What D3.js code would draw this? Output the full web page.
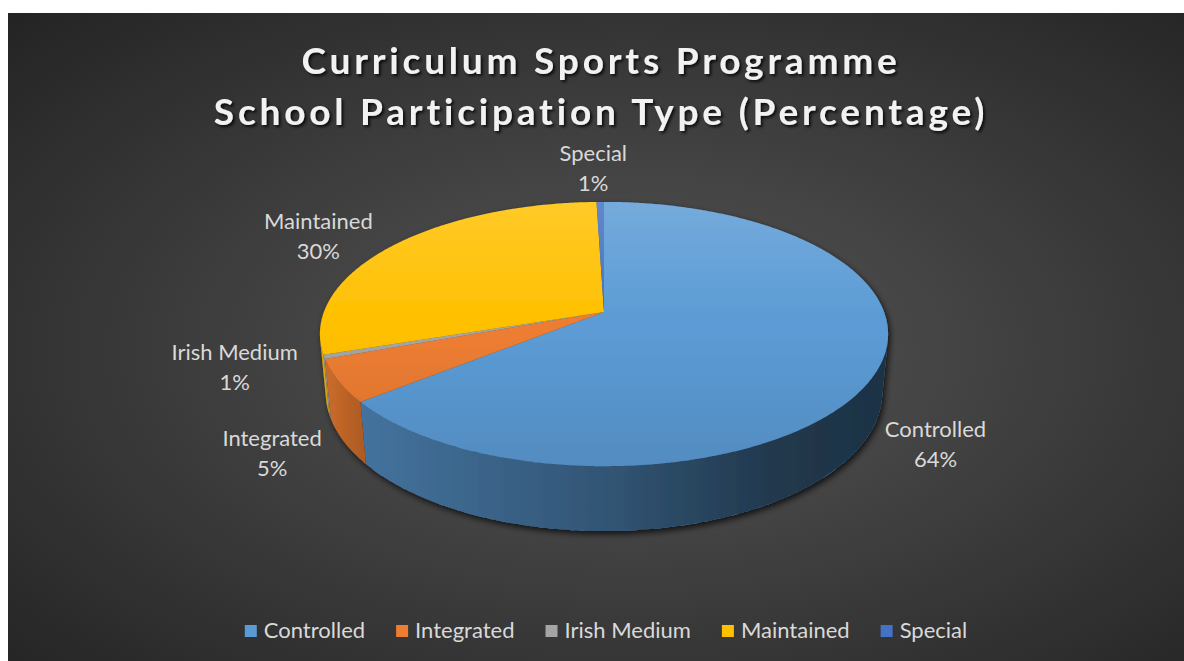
<!DOCTYPE html>
<html>
<head>
<meta charset="utf-8">
<script src="https://cdn.jsdelivr.net/npm/d3@7"></script>
<style>
  html, body { margin: 0; padding: 0; background: #fff; }
  svg { display: block; }
  text { font-family: Lato, "Open Sans", sans-serif; }
</style>
</head>
<body>
<svg id="chart" width="1184" height="661"></svg>
<script>
// chart data
const categories = ["Controlled", "Integrated", "Irish Medium", "Maintained", "Special"];
const values = [64.2, 5.2, 0.5, 29.6, 0.5];
const titleLines = ["Curriculum Sports Programme", "School Participation Type (Percentage)"];
const palette = ["#5b9bd5", "#ed7d31", "#a5a5a5", "#ffc000", "#4472c4"];

const W = 1184, H = 661;
const svg = d3.select("#chart");
const defs = svg.append("defs");
const color = d3.scaleOrdinal(categories, palette);

// background
const bg = defs.append("radialGradient").attr("id", "bgGrad")
  .attr("cx", "53%").attr("cy", "52%").attr("r", "75%");
bg.append("stop").attr("offset", "0%").attr("stop-color", "#4d4d4d");
bg.append("stop").attr("offset", "30%").attr("stop-color", "#474747");
bg.append("stop").attr("offset", "100%").attr("stop-color", "#232323");
svg.append("rect").attr("x", 8).attr("y", 13).attr("width", W - 8).attr("height", H - 13)
  .attr("fill", "url(#bgGrad)");

// filters
const sh = defs.append("filter").attr("id", "pieShadow")
  .attr("x", "-10%").attr("y", "-10%").attr("width", "120%").attr("height", "130%");
sh.append("feDropShadow").attr("dx", 2).attr("dy", 3).attr("stdDeviation", 3)
  .attr("flood-color", "#000").attr("flood-opacity", 0.75);
const tsh = defs.append("filter").attr("id", "titleShadow")
  .attr("x", "-5%").attr("y", "-20%").attr("width", "110%").attr("height", "150%");
tsh.append("feDropShadow").attr("dx", 2).attr("dy", 2).attr("stdDeviation", 1.8)
  .attr("flood-color", "#000").attr("flood-opacity", 0.8);

// title
svg.append("g").attr("filter", "url(#titleShadow)")
  .selectAll("text").data(titleLines).join("text")
  .attr("x", 601).attr("y", (d, i) => 74 + i * 51)
  .attr("text-anchor", "middle")
  .attr("font-size", 37).attr("font-weight", 700).attr("letter-spacing", 3.8)
  .attr("fill", "#f2f2f2")
  .text(d => d);

// 3D projection of a unit-radius pie (perspective)
const alpha = 27.3 * Math.PI / 180;
const sinA = Math.sin(alpha), cosA = Math.cos(alpha);
const dist = 5.33, focal = 1493, depthH = 0.235;
const cx = 604, cy = 312;

function project(x, y, z) {
  const depth = dist - y * sinA + z * cosA;
  return [cx + focal * x / depth, cy - focal * (y * cosA + z * sinA) / depth];
}
function rim(theta, r, y) {
  return project(r * Math.sin(theta), y, r * Math.cos(theta));
}
function angles(a0, a1) {
  const n = Math.max(2, Math.ceil((a1 - a0) / 0.01));
  return d3.range(n + 1).map(i => a0 + (a1 - a0) * i / n);
}

const pie = d3.pie().sort(null).value(d => d.value).startAngle(0).endAngle(2 * Math.PI);
const data = categories.map((c, i) => ({ name: c, value: values[i] }));
const arcs = pie(data);
const total = d3.sum(values);

const closed = d3.line().curve(d3.curveLinearClosed);
const thetaVis = Math.acos(-1 / (dist * cosA));   // silhouette angle of the side wall

const g = svg.append("g").attr("filter", "url(#pieShadow)");

// side walls
function wallPath(a0, a1) {
  const top = angles(a0, a1).map(t => rim(t, 1, 0));
  const bot = angles(a0, a1).reverse().map(t => rim(t, 1, -depthH));
  return closed(top.concat(bot));
}
arcs.forEach(a => {
  const a0 = Math.max(a.startAngle, thetaVis), a1 = Math.min(a.endAngle, 2 * Math.PI - thetaVis);
  if (a1 > a0) {
    g.append("path").attr("d", wallPath(a0, a1)).attr("fill", color(a.data.name));
  }
});

// wall shading (lighter on the left, dark on the right)
const leftX = rim(2 * Math.PI - thetaVis, 1, 0)[0], rightX = rim(thetaVis, 1, 0)[0];
const wg = defs.append("linearGradient").attr("id", "wallShade")
  .attr("gradientUnits", "userSpaceOnUse")
  .attr("x1", leftX).attr("x2", rightX).attr("y1", 0).attr("y2", 0);
[[0, 0.12], [0.07, 0.26], [0.5, 0.45], [0.8, 0.64], [1, 0.68]].forEach(([o, op]) =>
  wg.append("stop").attr("offset", o).attr("stop-color", "#000").attr("stop-opacity", op));
g.append("path").attr("d", wallPath(thetaVis, 2 * Math.PI - thetaVis)).attr("fill", "url(#wallShade)");

// top faces
const apex = project(0, 0, 0);
arcs.forEach(a => {
  const pts = [apex].concat(angles(a.startAngle, a.endAngle).map(t => rim(t, 1, 0)));
  g.append("path").attr("d", closed(pts)).attr("fill", color(a.data.name));
});

// top face shading
const topY = rim(0, 1, 0)[1], botY = rim(Math.PI, 1, 0)[1];
const tg = defs.append("linearGradient").attr("id", "topShade")
  .attr("gradientUnits", "userSpaceOnUse")
  .attr("x1", 0).attr("x2", 0).attr("y1", topY).attr("y2", botY);
tg.append("stop").attr("offset", 0).attr("stop-color", "#fff").attr("stop-opacity", 0.16);
tg.append("stop").attr("offset", 0.45).attr("stop-color", "#fff").attr("stop-opacity", 0);
tg.append("stop").attr("offset", 0.5).attr("stop-color", "#000").attr("stop-opacity", 0);
tg.append("stop").attr("offset", 1).attr("stop-color", "#000").attr("stop-opacity", 0.1);
g.append("path")
  .attr("d", closed(angles(0, 2 * Math.PI).map(t => rim(t, 1, 0))))
  .attr("fill", "url(#topShade)");

// data labels
const labelNudge = {
  "Controlled": [-23, -8], "Integrated": [15, -12], "Irish Medium": [-7, -64],
  "Maintained": [-20, 10], "Special": [-6, -6]
};
const labels = svg.append("g").attr("fill", "#d9d9d9").attr("font-size", 22).attr("text-anchor", "middle");
arcs.forEach(a => {
  const mid = (a.startAngle + a.endAngle) / 2;
  const p = rim(mid, 1.3, Math.cos(mid) < 0 ? -depthH : 0);
  const nd = labelNudge[a.data.name];
  const x = p[0] + nd[0], y = p[1] + nd[1];
  labels.append("text").attr("x", x).attr("y", y - 8).text(a.data.name);
  labels.append("text").attr("x", x).attr("y", y + 22)
    .text(Math.round(a.data.value / total * 100) + "%");
});

// legend
const legend = svg.append("g").attr("font-size", 22).attr("fill", "#d9d9d9");
const items = legend.selectAll("g").data(categories).join("g");
items.append("rect").attr("y", 625).attr("width", 12).attr("height", 12).attr("fill", d => color(d));
items.append("text").attr("x", 19).attr("y", 638).text(d => d);
let xPos = 0;
items.each(function () {
  const w = d3.select(this).select("text").node().getComputedTextLength();
  d3.select(this).attr("transform", `translate(${xPos},0)`);
  xPos += 19 + w + 31;
});
const legendW = xPos - 31;
legend.attr("transform", `translate(${606 - legendW / 2},0)`);
</script>
</body>
</html>
